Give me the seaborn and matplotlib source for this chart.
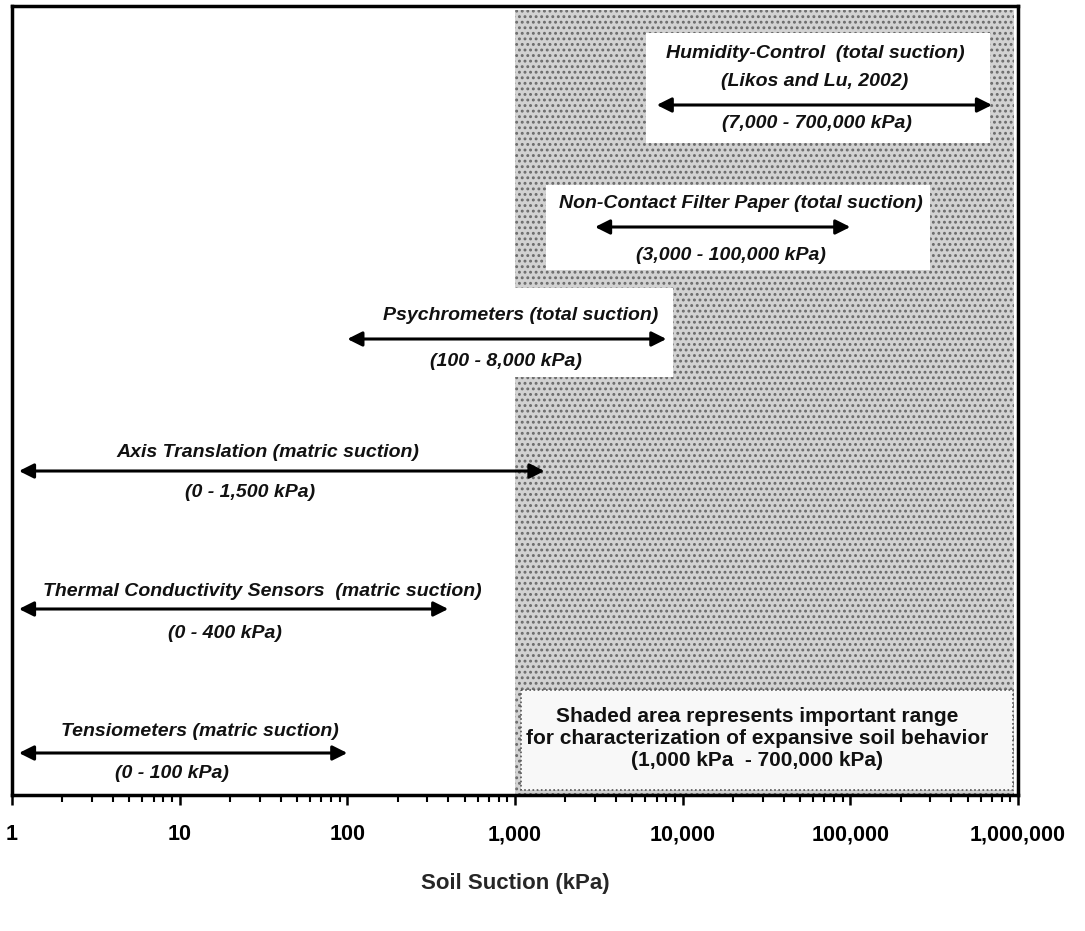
import numpy as np
import pandas as pd
import matplotlib
matplotlib.use("Agg")
import matplotlib.pyplot as plt
import seaborn as sns
from matplotlib.patches import Rectangle

# ---------------- data ----------------
methods = [
    "Humidity-Control  (total suction)",
    "Non-Contact Filter Paper (total suction)",
    "Psychrometers (total suction)",
    "Axis Translation (matric suction)",
    "Thermal Conductivity Sensors  (matric suction)",
    "Tensiometers (matric suction)",
]
subtitles = ["(Likos and Lu, 2002)", "", "", "", "", ""]
range_labels = [
    "(7,000 - 700,000 kPa)",
    "(3,000 - 100,000 kPa)",
    "(100 - 8,000 kPa)",
    "(0 - 1,500 kPa)",
    "(0 - 400 kPa)",
    "(0 - 100 kPa)",
]
low_kpa = [7000, 3000, 100, 1.1, 1.1, 1.1]
high_kpa = [700000, 100000, 8000, 1500, 400, 100]
shade_low, shade_high = 1000, 950000
tick_values = [1, 10, 100, 1000, 10000, 100000, 1000000]
tick_labels = ["1", "10", "100", "1,000", "10,000", "100,000", "1,000,000"]
note = ("Shaded area represents important range\n"
        "for characterization of expansive soil behavior\n"
        "(1,000 kPa  - 700,000 kPa)")

df = pd.DataFrame({"method": methods, "low": low_kpa, "high": high_kpa})

# ---------------- layout (pixel positions) ----------------
W, H = 1085, 931
AX_L, AX_R, AX_T, AX_B = 12, 1018, 6, 795
AX_H = AX_B - AX_T
row_y = [105, 227, 339, 471, 609, 753]
title_y = [53, 203, 315, 452, 592, 731]
sub_y = [81, None, None, None, None, None]
range_y = [123, 255, 361, 492, 634, 773]
title_cx = [815, 741, 521, 268, 262, 200]
range_cx = [817, 731, 506, 250, 225, 172]

DEC = (AX_R - AX_L) / 6.0


def px2x(px):
    return 10 ** ((px - AX_L) / DEC)


def py(px):
    return px - AX_T


sns.set_theme(style="white")
plt.rcParams["font.family"] = ["Liberation Sans", "DejaVu Sans"]
plt.rcParams["hatch.linewidth"] = 1.3
plt.rcParams["hatch.color"] = "#6a6a6a"

fig = plt.figure(figsize=(W / 100, H / 100), dpi=100)
ax = fig.add_axes([AX_L / W, 1 - AX_B / H, (AX_R - AX_L) / W, AX_H / H])
ax.set_xscale("log")
ax.set_xlim(1, 1e6)
ax.set_ylim(AX_H, 0)

# shaded region
ax.axvspan(shade_low, shade_high, ymin=0.0, ymax=0.995, facecolor="#d2d2d2",
           edgecolor="#6a6a6a", hatch="...", linewidth=0, zorder=0)

# white boxes behind labels (layout in pixels)
boxes = [(646, 990, 33, 143), (546, 930, 185, 270), (340, 673, 288, 377)]
for x0, x1, y0, y1 in boxes:
    ax.add_patch(Rectangle((px2x(x0), py(y0)), px2x(x1) - px2x(x0), y1 - y0,
                           facecolor="white", edgecolor="none", zorder=1))
# note box
ax.add_patch(Rectangle((px2x(521), py(690)), px2x(1013) - px2x(521), 100,
                       facecolor="#f8f8f8", edgecolor="#555555", linestyle=(0, (1, 1.5)),
                       linewidth=1.2, zorder=1))

txt_kw = dict(ha="center", va="center", fontsize=14, fontweight="bold",
              fontstyle="italic", color="#111111", zorder=4)

# arrows drawn from the data
for i, r in df.iterrows():
    y = py(row_y[i])
    ax.annotate("", xy=(r["high"], y), xytext=(r["low"], y),
                arrowprops=dict(arrowstyle="<|-|>", color="black", lw=2.2,
                                mutation_scale=22, shrinkA=0, shrinkB=0),
                zorder=3)
    ax.text(px2x(title_cx[i]), py(title_y[i]), r["method"], **txt_kw)
    if subtitles[i]:
        ax.text(px2x(title_cx[i]), py(sub_y[i]), subtitles[i], **txt_kw)
    ax.text(px2x(range_cx[i]), py(range_y[i]), range_labels[i], **txt_kw)

ax.text(px2x(757), py(738), note, ha="center", va="center", fontsize=15,
        fontweight="bold", color="#111111", linespacing=1.2, zorder=4)

# axes styling
for s in ax.spines.values():
    s.set_linewidth(2.5)
    s.set_color("black")
ax.set_yticks([])
ax.set_xticks(tick_values)
ax.set_xticklabels(tick_labels, fontsize=15.5, fontweight="bold")
ax.xaxis.set_minor_locator(matplotlib.ticker.LogLocator(base=10, subs=np.arange(2, 10)))
ax.xaxis.set_minor_formatter(matplotlib.ticker.NullFormatter())
ax.tick_params(axis="x", which="major", direction="out", length=7, width=1.8,
               pad=14, colors="black", bottom=True)
ax.tick_params(axis="x", which="minor", direction="out", length=5, width=1.5,
               colors="black", bottom=True)
ax.set_xlabel("Soil Suction (kPa)", fontsize=16, fontweight="bold", labelpad=20)

fig.savefig("out.png", dpi=100)
